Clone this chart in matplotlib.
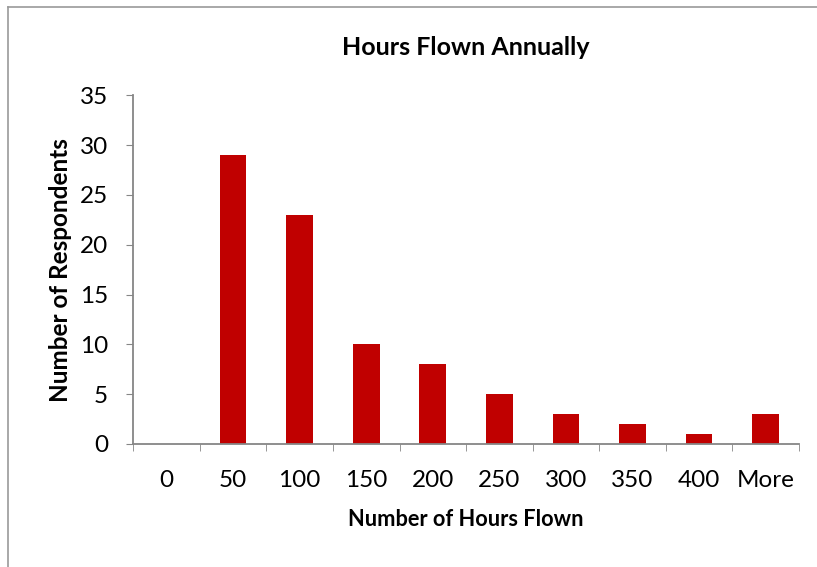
import matplotlib.pyplot as plt
import numpy as np
from matplotlib.lines import Line2D

bins = ['0', '50', '100', '150', '200', '250', '300', '350', '400', 'More']
counts = [0, 29, 23, 10, 8, 5, 3, 2, 1, 3]
y_ticks = [0, 5, 10, 15, 20, 25, 30, 35]

plt.rcParams['font.family'] = ['Lato', 'DejaVu Sans']

fig = plt.figure(figsize=(8.17, 5.67), dpi=100)
ax = fig.add_axes([0.163, 0.217, 0.815, 0.615])

x = np.arange(len(bins))
ax.bar(x, counts, width=0.4, color='#C00000', zorder=2)

ax.set_xlim(-0.5, len(bins) - 0.5)
ax.set_ylim(0, 35)
ax.set_yticks(y_ticks)
ax.set_xticks(x)
ax.set_xticklabels(bins)
ax.set_xticks(np.arange(-0.5, len(bins)), minor=True)
ax.tick_params(axis='x', which='major', length=0, pad=19, labelsize=17.5)
ax.tick_params(axis='x', which='minor', length=5, color='#868686', direction='out')
ax.tick_params(axis='y', length=5, color='#868686', labelsize=17.5, pad=13)

for s in ['top', 'right']:
    ax.spines[s].set_visible(False)
for s in ['left', 'bottom']:
    ax.spines[s].set_color('#868686')
    ax.spines[s].set_linewidth(1.3)

ax.set_title('Hours Flown Annually', fontsize=18, fontweight='bold', pad=29)
ax.set_xlabel('Number of Hours Flown', fontsize=15.7, fontweight='bold', labelpad=13)
ax.set_ylabel('Number of Respondents', fontsize=17.5, fontweight='bold', labelpad=6)

# outer chart border: only the top and left edges show in the reference
bx, by = 7.5 / 817, 1 - 6.5 / 567
fig.add_artist(Line2D([bx, 1.0], [by, by], transform=fig.transFigure,
                      color='#9a9a9a', linewidth=1.2))
fig.add_artist(Line2D([bx, bx], [0.0, by], transform=fig.transFigure,
                      color='#9a9a9a', linewidth=1.2))

fig.savefig('out.png', dpi=100)
